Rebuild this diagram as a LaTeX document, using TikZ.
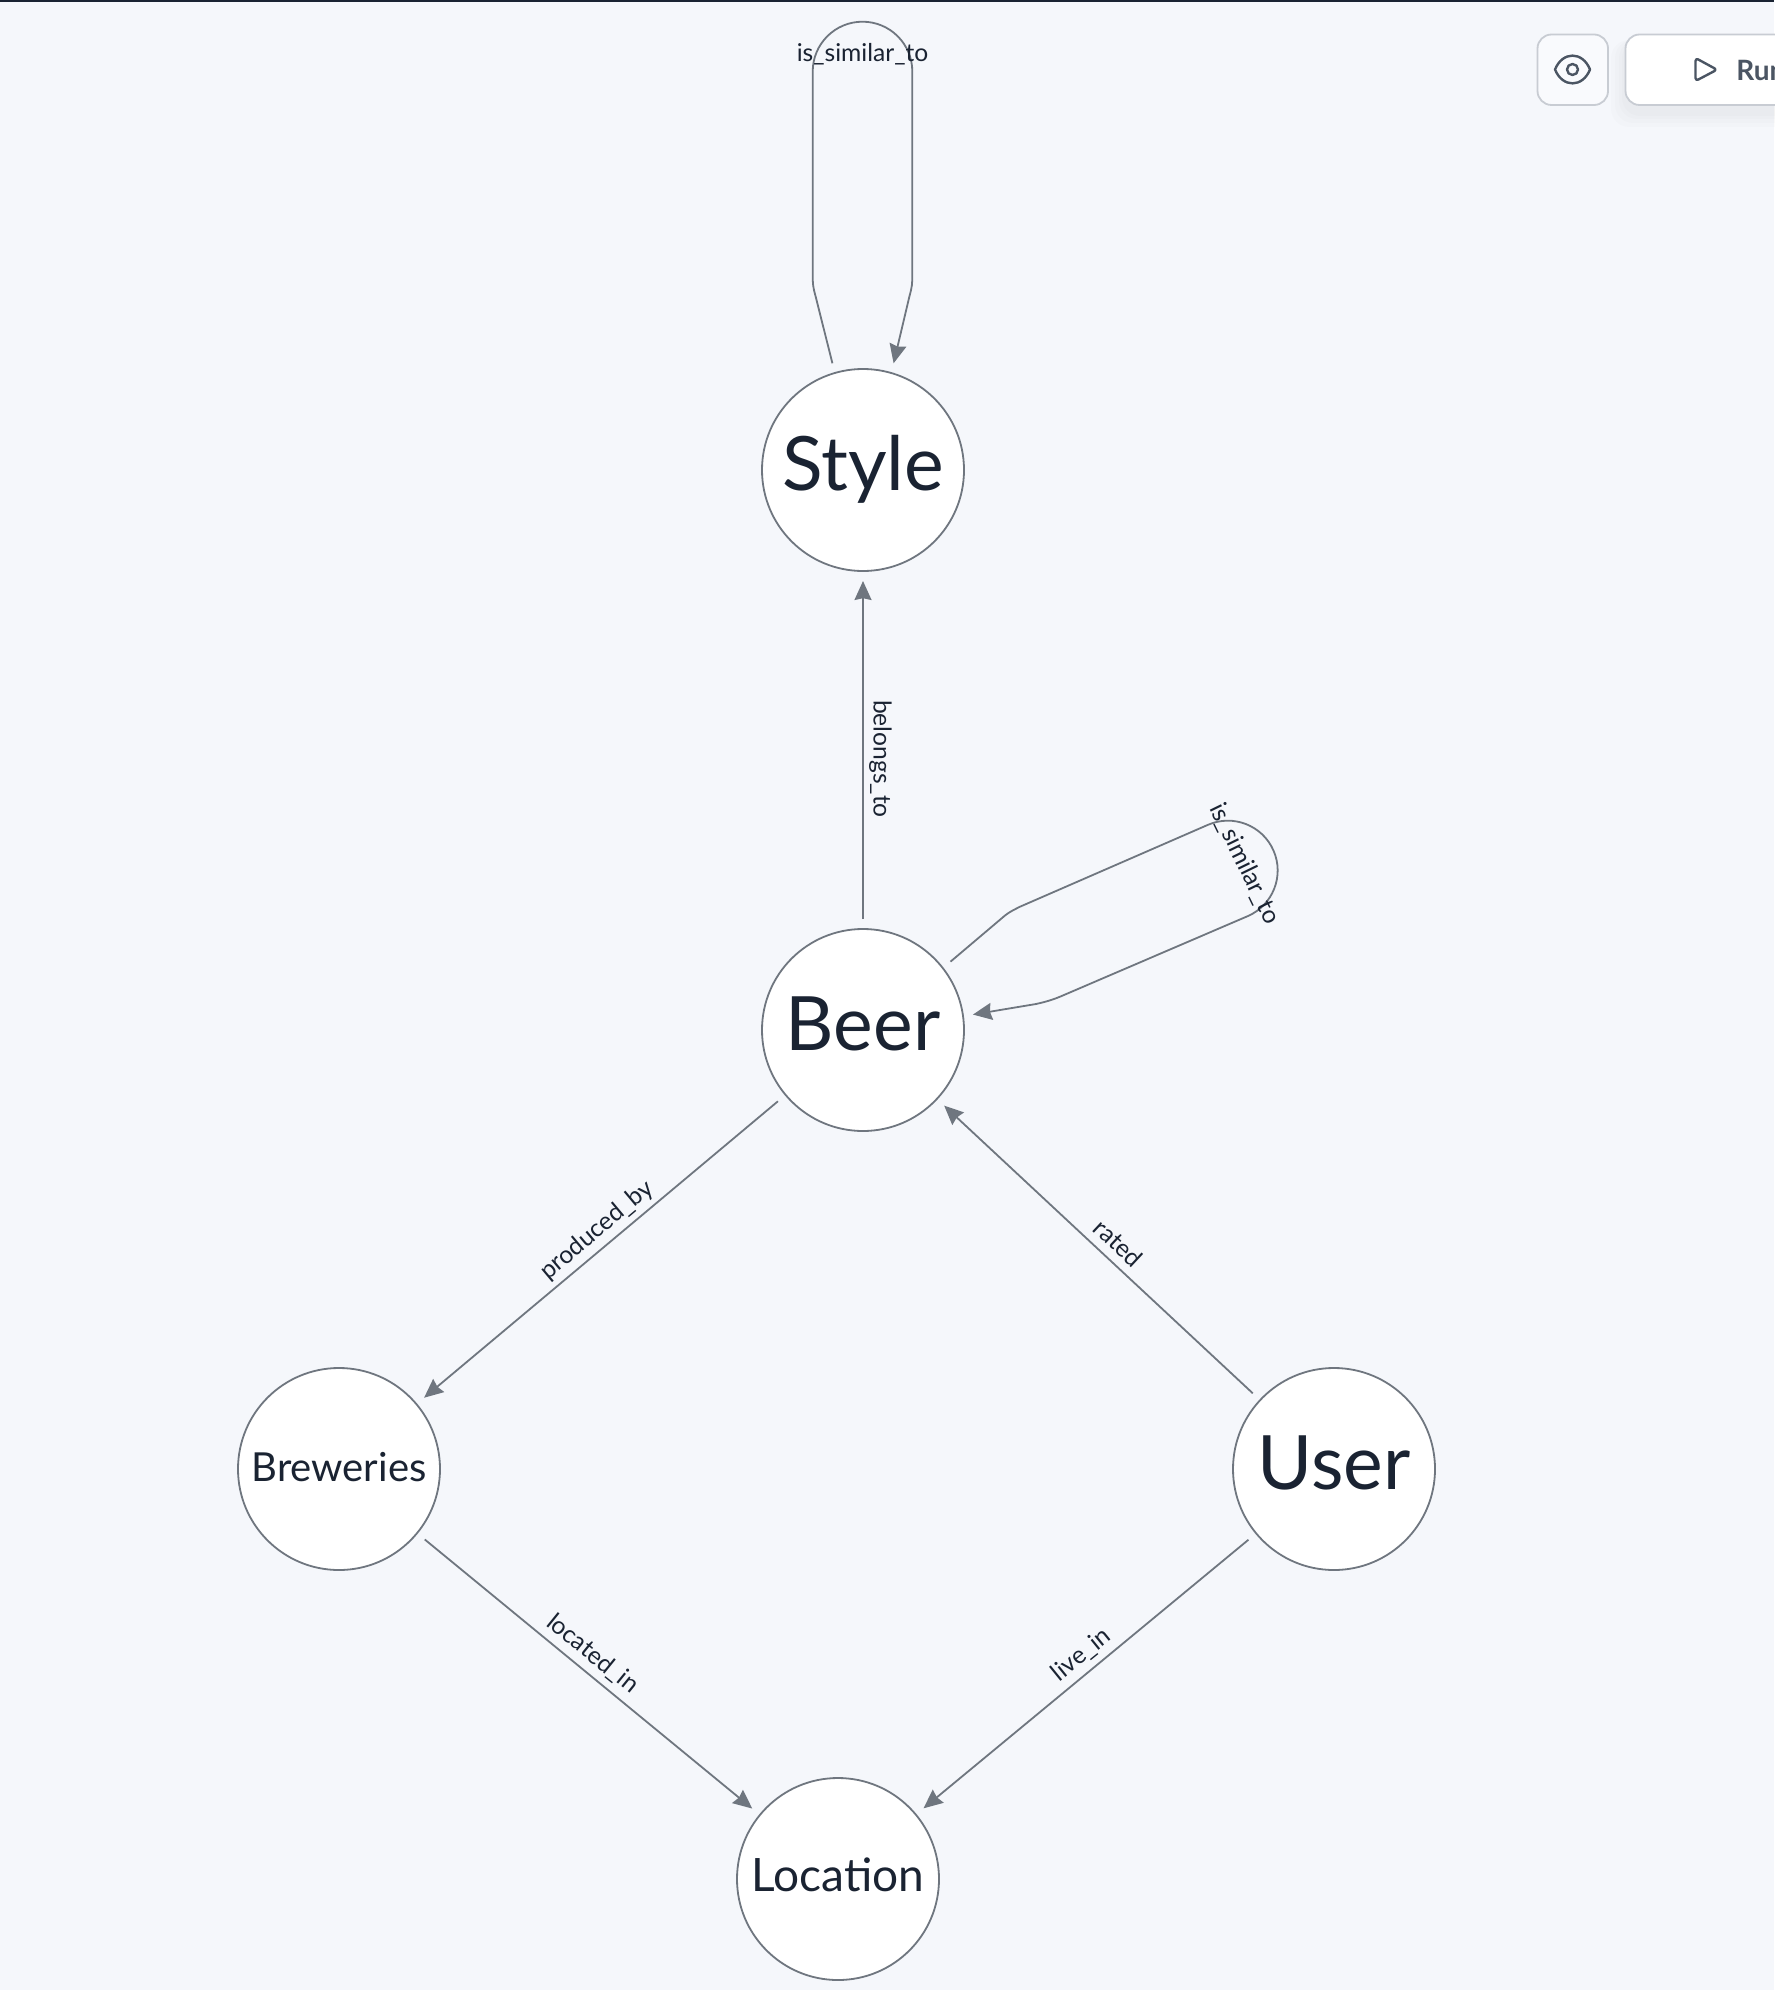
\documentclass[tikz,border=0pt]{standalone}
\usepackage{fontspec}
\setmainfont{Lato}
\usetikzlibrary{arrows.meta}
\definecolor{pageBg}{HTML}{F5F7FB}
\definecolor{inkDark}{HTML}{1A2332}
\definecolor{lineGray}{HTML}{6F767F}
\definecolor{borderGray}{HTML}{C8CCD3}
\definecolor{iconGray}{HTML}{4B5563}

\begin{document}
\begin{tikzpicture}[x = 0.5pt, y = -0.5pt]
	\tikzstyle{vertexStyle}=[shape = circle, minimum size = 101pt, outer sep = 5pt, inner sep = 0pt, draw = lineGray, line width = 0.9pt, fill = white, text = inkDark]
	\tikzstyle{bigLabel}=[font = \fontsize{37.5}{37.5}\selectfont, text height = 28pt, text depth = 8pt]
	\tikzstyle{smallLabel}=[font = \fontsize{20}{20}\selectfont, text height = 17pt, text depth = 5pt]
	\tikzstyle{edgeStyle}=[draw = lineGray, line width = 0.9pt, -{Stealth[length = 9.5pt, width = 8.5pt, inset = 0.9pt]}]
	\tikzstyle{edgeLabel}=[font = \fontsize{12.3}{12.3}\selectfont, text = inkDark, inner sep = 0pt]
	\tikzstyle{toolButton}=[draw = borderGray, line width = 0.9pt, rounded corners = 7pt]
	\tikzstyle{toolIcon}=[draw = iconGray, line width = 1.2pt, line join = round]
	\useasboundingbox (0, 0) rectangle (1774, 1990);
	\fill[pageBg] (0, 0) rectangle (1774, 1990);
	\fill[inkDark] (0, 0) rectangle (1774, 2);
	% toolbar
	\foreach \grow in {14, 10, 6, 3}
		\fill[black, opacity = 0.012, rounded corners = 9pt] (1625 - \grow, 40) rectangle (1800, 105 + \grow + 8);
	\draw[toolButton, fill = pageBg!60!white] (1537.5, 34.5) rectangle (1608, 105);
	\draw[toolButton, fill = white] (1625.5, 34.5) rectangle (1800, 105);
	\draw[toolIcon] (1555, 69.5) .. controls (1562.5, 51) and (1582.5, 51) .. (1590, 69.5) .. controls (1582.5, 88) and (1562.5, 88) .. (1555, 69.5) -- cycle;
	\draw[toolIcon] (1572.5, 69.5) circle (5.5);
	\draw[toolIcon, rounded corners = 1.5pt] (1695.5, 58) -- (1717, 69.7) -- (1695.5, 81) -- cycle;
	\node[anchor = west, inner sep = 0pt, text = iconGray, font = \fontsize{14}{14}\selectfont\bfseries] (runText) at (1736, 70) {Run};
	% vertices
	\node[vertexStyle, bigLabel] (style) at (863, 470) {Style};
	\node[vertexStyle, bigLabel] (beer) at (863, 1030) {Beer};
	\node[vertexStyle, smallLabel] (breweries) at (339, 1469) {Breweries};
	\node[vertexStyle, bigLabel] (user) at (1334, 1469) {User};
	\node[vertexStyle, smallLabel, font = \fontsize{23}{23}\selectfont] (location) at (838, 1879) {Location};
	% edges
	\draw[edgeStyle] (beer) -- (style);
	\draw[edgeStyle] (beer) -- (breweries);
	\draw[edgeStyle] (user) -- (beer);
	\draw[edgeStyle] (breweries) -- (location);
	\draw[edgeStyle] (user) -- (location);
	\draw[edgeStyle] (style.106) -- (815.5, 296) .. controls (813, 287) and (812.7, 284) .. (812.7, 275) -- (812.7, 71.5) arc[start angle = 180, end angle = 360, radius = 49.8] -- (912.3, 275) .. controls (912.3, 284) and (912, 287) .. (909.5, 296) -- (style.74);
	\draw[edgeStyle] (beer.38.7) -- (1005, 915.5) .. controls (1010, 911.5) and (1014, 909.8) .. (1020, 906.7) -- (1208, 824.8) arc[start angle = 246.5, end angle = 426.5, radius = 49.8] -- (1060, 996.7) .. controls (1052, 1000) and (1045, 1002) .. (1036, 1004) -- (beer.8);
	% edge labels
	\node[edgeLabel] (lblStyleLoop) at (862.5, 54) {is\_similar\_to};
	\node[edgeLabel, rotate = -90] (lblBelongs) at (880.5, 759) {belongs\_to};
	\node[edgeLabel, rotate = -64] (lblBeerLoop) at (1244.5, 864) {is\_similar\_to};
	\node[edgeLabel, rotate = 40] (lblProduced) at (597, 1230.5) {produced\_by};
	\node[edgeLabel, rotate = -43] (lblRated) at (1118.5, 1243) {rated};
	\node[edgeLabel, rotate = -39] (lblLocated) at (592.5, 1654) {located\_in};
	\node[edgeLabel, rotate = 39] (lblLiveIn) at (1081.5, 1655) {live\_in};
\end{tikzpicture}
\end{document}
